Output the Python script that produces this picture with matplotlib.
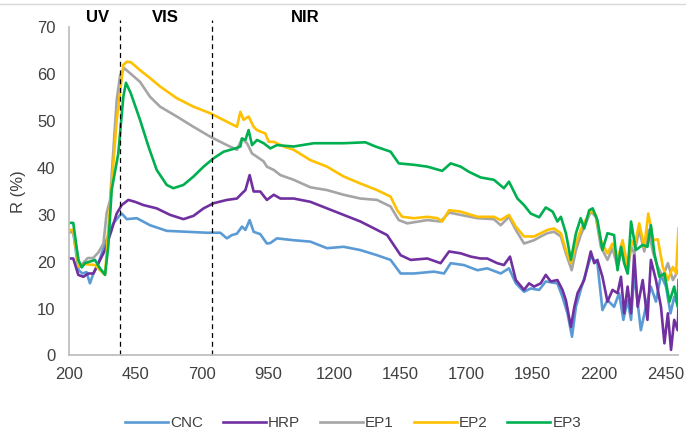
import matplotlib.pyplot as plt
from matplotlib.lines import Line2D

plt.rcParams['font.family'] = ['Liberation Sans', 'DejaVu Sans']

# wavelength (nm) and reflectance (%)
cnc_wl = [200, 215, 235, 250, 265, 278, 291, 310, 335, 366, 392, 398, 417, 455, 505, 568, 644, 720, 770, 795, 814, 833, 852, 865, 881, 896, 921, 946, 959, 984, 1047, 1110, 1173, 1236, 1299, 1362, 1413, 1451, 1501, 1577, 1615, 1640, 1690, 1741, 1778, 1829, 1860, 1886, 1917, 1942, 1974, 1999, 2043, 2062, 2081, 2098, 2113, 2131, 2169, 2194, 2213, 2232, 2257, 2276, 2292, 2308, 2321, 2333, 2358, 2377, 2396, 2415, 2434, 2453, 2470, 2484, 2500]
cnc_r = [26.5, 26.3, 18.2, 17.5, 17.8, 15.4, 17.5, 19.7, 23.9, 28.2, 30.0, 30.3, 29.1, 29.3, 27.8, 26.6, 26.4, 26.2, 26.2, 25.0, 25.7, 26.0, 27.5, 26.8, 28.9, 26.4, 25.9, 23.9, 24.0, 25.0, 24.6, 24.3, 22.9, 23.2, 22.5, 21.4, 20.4, 17.5, 17.5, 17.9, 17.5, 19.7, 19.3, 18.2, 18.6, 17.5, 18.6, 15.4, 13.6, 14.3, 14.0, 15.8, 15.4, 12.5, 9.0, 4.0, 10.4, 14.0, 21.1, 19.7, 9.7, 11.8, 10.4, 13.3, 7.6, 11.8, 7.6, 17.5, 5.4, 10.4, 14.7, 11.5, 17.2, 14.7, 9.0, 12.5, 10.4]

hrp_wl = [200, 215, 234, 253, 272, 291, 310, 335, 360, 379, 398, 423, 448, 480, 530, 581, 631, 669, 707, 745, 795, 833, 852, 865, 881, 896, 921, 946, 972, 997, 1047, 1110, 1173, 1236, 1299, 1362, 1400, 1451, 1489, 1552, 1602, 1634, 1678, 1716, 1753, 1778, 1816, 1841, 1864, 1886, 1917, 1936, 1955, 1980, 1999, 2018, 2043, 2062, 2075, 2094, 2107, 2119, 2144, 2169, 2182, 2194, 2213, 2232, 2251, 2270, 2283, 2295, 2308, 2321, 2333, 2346, 2365, 2383, 2396, 2415, 2434, 2447, 2460, 2472, 2484, 2497, 2500]
hrp_r = [20.7, 20.7, 17.2, 16.8, 17.5, 17.5, 19.7, 22.5, 26.8, 30.3, 32.1, 33.2, 32.8, 32.1, 31.4, 30.0, 29.1, 29.8, 31.4, 32.5, 33.2, 33.5, 34.6, 35.3, 38.5, 35.0, 35.0, 33.2, 34.3, 33.5, 33.5, 32.8, 31.4, 30.0, 28.6, 26.8, 25.7, 21.4, 20.4, 20.7, 19.7, 22.2, 21.8, 21.1, 20.7, 20.7, 19.7, 19.3, 21.1, 16.1, 14.0, 15.4, 14.7, 15.4, 17.2, 15.8, 16.1, 14.0, 11.8, 6.1, 10.4, 13.3, 16.1, 22.2, 19.7, 20.4, 16.8, 11.5, 14.0, 13.3, 16.8, 9.0, 14.7, 9.0, 21.8, 10.4, 16.1, 7.6, 20.4, 16.1, 10.4, 2.6, 9.0, 1.2, 7.6, 5.4, 10.1]

ep1_wl = [200, 215, 240, 270, 290, 310, 329, 341, 354, 379, 392, 408, 467, 505, 543, 606, 669, 732, 795, 833, 852, 871, 890, 909, 934, 946, 972, 997, 1047, 1110, 1173, 1236, 1299, 1362, 1413, 1444, 1476, 1552, 1602, 1634, 1678, 1741, 1803, 1829, 1860, 1886, 1917, 1955, 1980, 2005, 2030, 2056, 2075, 2097, 2113, 2131, 2150, 2169, 2188, 2207, 2232, 2251, 2270, 2289, 2308, 2321, 2333, 2352, 2371, 2386, 2405, 2422, 2441, 2460, 2479, 2500]
ep1_r = [26.3, 26.3, 19.0, 20.8, 20.8, 22.0, 23.9, 30.4, 33.2, 54.5, 59.8, 61.3, 58.4, 55.2, 53.1, 51.0, 48.8, 46.7, 44.9, 43.9, 46.3, 45.3, 43.1, 42.4, 41.4, 40.3, 39.6, 38.5, 37.5, 35.9, 35.3, 34.3, 33.5, 33.2, 31.8, 28.9, 28.2, 28.9, 28.6, 30.5, 30.0, 29.3, 29.1, 27.8, 29.6, 26.8, 23.9, 24.6, 25.4, 26.1, 26.4, 25.4, 21.8, 18.2, 22.5, 25.7, 28.2, 30.7, 29.6, 23.2, 20.4, 22.9, 18.9, 23.2, 17.5, 23.2, 21.8, 26.8, 22.2, 26.8, 21.8, 18.9, 16.8, 19.7, 16.1, 18.2]

ep2_wl = [200, 215, 235, 260, 297, 320, 335, 347, 379, 404, 417, 432, 467, 505, 543, 606, 669, 732, 795, 833, 846, 858, 877, 896, 909, 921, 940, 953, 972, 1010, 1047, 1110, 1173, 1236, 1299, 1362, 1413, 1438, 1457, 1501, 1552, 1590, 1608, 1634, 1678, 1741, 1803, 1829, 1860, 1886, 1917, 1955, 1980, 2005, 2030, 2056, 2075, 2094, 2113, 2131, 2150, 2169, 2188, 2207, 2232, 2251, 2270, 2289, 2308, 2321, 2333, 2352, 2371, 2386, 2405, 2422, 2441, 2460, 2479, 2491, 2500]
ep2_r = [26.8, 26.8, 19.0, 19.5, 19.3, 18.0, 17.2, 26.8, 50.2, 62.0, 62.7, 62.6, 60.9, 59.2, 57.4, 54.9, 53.1, 51.7, 49.9, 48.8, 52.0, 50.3, 51.0, 48.8, 48.1, 47.8, 47.4, 45.6, 45.6, 44.6, 43.9, 41.7, 40.3, 38.2, 36.7, 35.3, 33.9, 31.0, 29.6, 29.3, 29.6, 29.3, 28.6, 31.0, 30.7, 29.6, 29.6, 28.9, 30.0, 27.5, 25.4, 25.4, 26.1, 26.8, 27.1, 26.1, 22.5, 19.7, 23.9, 26.8, 28.9, 31.0, 30.0, 24.6, 21.8, 23.9, 20.4, 24.6, 18.9, 24.6, 23.2, 28.2, 23.2, 30.3, 24.6, 24.8, 18.9, 16.1, 18.9, 17.5, 27.1]

ep3_wl = [200, 215, 234, 247, 259, 297, 316, 335, 347, 360, 385, 404, 414, 432, 467, 499, 530, 568, 593, 631, 669, 707, 745, 783, 827, 846, 852, 865, 877, 890, 909, 934, 959, 984, 1047, 1123, 1236, 1318, 1356, 1413, 1444, 1501, 1552, 1608, 1640, 1678, 1709, 1753, 1803, 1841, 1860, 1892, 1917, 1942, 1974, 1999, 2025, 2043, 2056, 2075, 2094, 2113, 2131, 2144, 2163, 2176, 2194, 2213, 2232, 2257, 2270, 2283, 2295, 2308, 2321, 2339, 2365, 2383, 2396, 2409, 2428, 2447, 2466, 2484, 2497, 2500]
ep3_r = [28.3, 28.3, 20.4, 18.8, 19.7, 20.4, 18.6, 17.2, 23.2, 35.3, 43.1, 55.2, 58.2, 56.0, 50.3, 44.6, 39.6, 36.4, 35.7, 36.4, 38.2, 40.3, 42.1, 43.5, 44.2, 44.6, 46.3, 46.0, 48.1, 44.9, 46.0, 45.3, 44.2, 44.9, 44.6, 45.3, 45.3, 45.5, 44.6, 43.5, 41.0, 40.7, 40.3, 39.4, 41.0, 40.3, 39.2, 38.0, 37.5, 35.7, 37.1, 33.5, 32.1, 30.3, 29.5, 31.6, 30.7, 28.6, 29.6, 26.1, 20.4, 26.1, 29.3, 27.1, 31.0, 31.4, 28.9, 22.5, 26.1, 25.7, 18.2, 23.2, 19.7, 17.5, 28.6, 22.5, 23.6, 23.2, 27.8, 21.8, 16.8, 17.5, 11.5, 14.7, 10.4, 16.1]

region_bounds = [390, 740]
region_names = ['UV', 'VIS', 'NIR']
region_pos = [305, 562, 1091]
xticks = [200, 450, 700, 950, 1200, 1450, 1700, 1950, 2200, 2450]

fig = plt.figure(figsize=(6.86, 4.33), dpi=100)
ax = fig.add_axes([0.101, 0.179, 0.888, 0.7575])

series = [
    ('CNC', cnc_wl, cnc_r, '#5B9BD5'),
    ('HRP', hrp_wl, hrp_r, '#7030A0'),
    ('EP1', ep1_wl, ep1_r, '#A5A5A5'),
    ('EP2', ep2_wl, ep2_r, '#FFC000'),
    ('EP3', ep3_wl, ep3_r, '#00B050'),
]
for name, wl, r, col in series:
    ax.plot(wl, r, color=col, lw=1.9, label=name, solid_joinstyle='round')

for b in region_bounds:
    ax.plot([b, b], [0, 71.6], color='black', lw=0.9, ls=(0, (4, 3)), clip_on=False)
for name, xp in zip(region_names, region_pos):
    ax.text(xp, 72.2, name, ha='center', va='center', fontsize=12, fontweight='bold')

ax.set_xlim(200, 2500)
ax.set_ylim(0, 70)
ax.set_xticks(xticks)
ax.set_yticks(range(0, 71, 10))
ax.tick_params(length=0, labelsize=12, colors='#404040', pad=8)
ax.tick_params(axis='y', pad=10)
for s in ['top', 'right']:
    ax.spines[s].set_visible(False)
for s in ['left', 'bottom']:
    ax.spines[s].set_color('#BFBFBF')
    ax.spines[s].set_linewidth(1.3)
ax.set_ylabel('R (%)', fontsize=12, color='#404040', labelpad=8)

leg = ax.legend(loc='lower center', bbox_to_anchor=(0.466, -0.27), ncol=5, frameon=False,
                fontsize=11, handlelength=2.8, columnspacing=1.3, handletextpad=0.15)
for t in leg.get_texts():
    t.set_color('#404040')

fig.add_artist(Line2D([0, 1], [1 - 4 / 433, 1 - 4 / 433], color='#D9D9D9', lw=1))

fig.savefig('out.png', dpi=100)
